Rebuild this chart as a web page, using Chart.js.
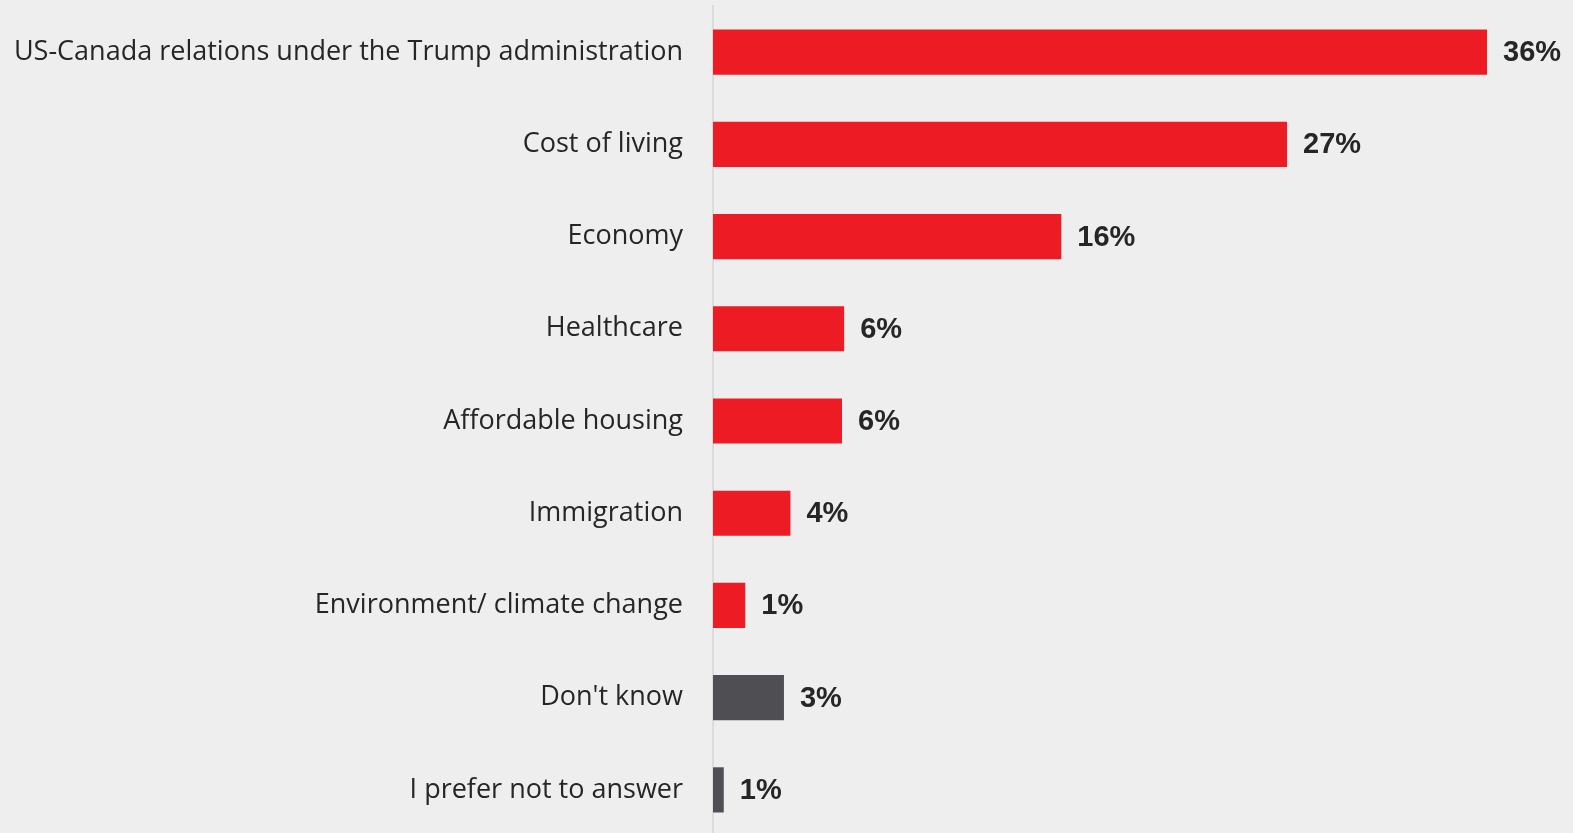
<!DOCTYPE html>
<html>
<head>
<meta charset="utf-8">
<script src="https://cdn.jsdelivr.net/npm/chart.js@4"></script>
<style>
  html, body { margin: 0; padding: 0; background: #eeeeee; overflow: hidden; }
  #wrap { width: 1573px; height: 836px; position: relative; }
</style>
</head>
<body>
<div id="wrap"><canvas id="issueChart"></canvas></div>
<script>
//Data
let categories = [
    'US-Canada relations under the Trump administration',
    'Cost of living',
    'Economy',
    'Healthcare',
    'Affordable housing',
    'Immigration',
    'Environment/ climate change',
    "Don't know",
    'I prefer not to answer'
];
let shares = [36, 26.7, 16.2, 6.1, 6.0, 3.6, 1.5, 3.3, 0.5];
let shareLabels = ['36%', '27%', '16%', '6%', '6%', '4%', '1%', '3%', '1%'];
let barColours = ['#ed1c24', '#ed1c24', '#ed1c24', '#ed1c24', '#ed1c24', '#ed1c24', '#ed1c24', '#4f4e53', '#4f4e53'];

//value labels next to each bar
const valueLabels = {
    id: 'valueLabels',
    afterDatasetsDraw(chart) {
        let ctx = chart.ctx;
        let meta = chart.getDatasetMeta(0);
        ctx.save();
        ctx.font = 'bold 29px "Liberation Sans", Arial, sans-serif';
        ctx.fillStyle = '#262626';
        ctx.textAlign = 'left';
        ctx.textBaseline = 'middle';
        meta.data.forEach(function (bar, i) {
            ctx.fillText(shareLabels[i], bar.x + 16, bar.y + 1);
        });
        ctx.restore();
    }
};

let chart = new Chart(document.getElementById('issueChart').getContext('2d'), {
    type: 'bar',
    data: {
        labels: categories,
        datasets: [{
            data: shares,
            backgroundColor: barColours,
            borderWidth: 0,
            barPercentage: 0.49,
            categoryPercentage: 1
        }]
    },
    options: {
        indexAxis: 'y',
        responsive: true,
        maintainAspectRatio: false,
        animation: false,
        layout: { padding: { top: 6, right: 0, bottom: 0, left: 0 } },
        plugins: {
            legend: { display: false },
            tooltip: { enabled: false }
        },
        scales: {
            x: {
                display: false,
                min: 0,
                max: 40
            },
            y: {
                afterFit: function (scale) {
                    scale.width = 713;
                    scale.paddingTop = 0;
                    scale.paddingBottom = 0;
                },
                grid: { display: false, drawTicks: false },
                border: { display: true, color: '#dcdcdc', width: 2 },
                ticks: {
                    color: '#262626',
                    padding: 30,
                    font: { family: '"Open Sans"', size: 27 }
                }
            }
        }
    },
    plugins: [valueLabels]
});
</script>
</body>
</html>
